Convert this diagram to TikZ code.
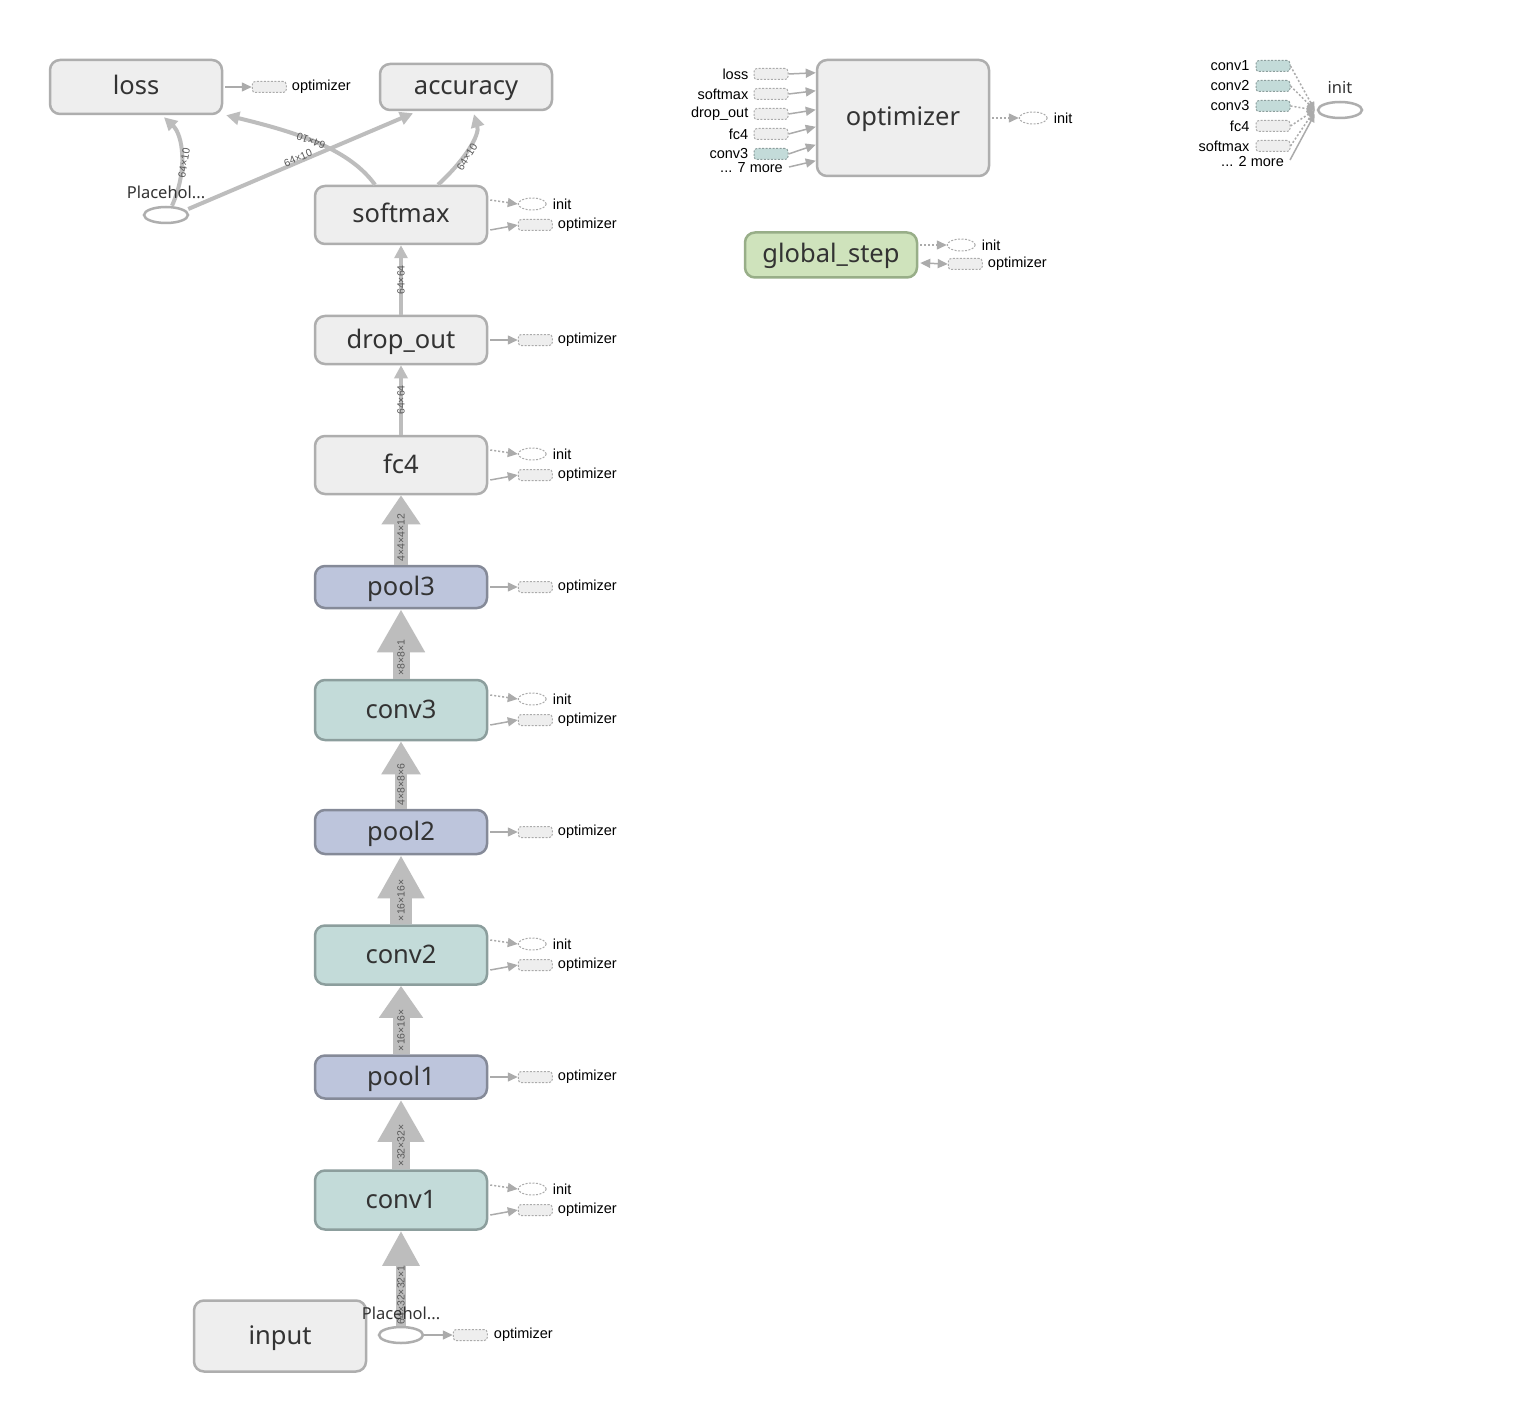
\documentclass[tikz,border=0pt]{standalone}
\usepackage{fontspec}
\setmainfont{Liberation Sans}
\newfontfamily\opfont{Noto Sans}
\usetikzlibrary{arrows.meta,shapes.geometric,calc}

\definecolor{opfill}{HTML}{EEEEEE}
\definecolor{opline}{HTML}{AEAEAE}
\definecolor{poolfill}{HTML}{BDC5DC}
\definecolor{poolline}{HTML}{858A98}
\definecolor{convfill}{HTML}{C3DBD9}
\definecolor{convline}{HTML}{8C9E9D}
\definecolor{varfill}{HTML}{CFE3BC}
\definecolor{varline}{HTML}{98AE88}
\definecolor{edgecol}{HTML}{BDBDBD}
\definecolor{stubline}{HTML}{ABABAB}
\definecolor{optext}{HTML}{333333}

\tikzset{
  op/.style={draw=opline, fill=opfill, line width=2.5pt, rounded corners=10pt,
    minimum width=172pt, inner sep=0pt, text=optext, text height=18pt, text depth=2pt,
    font=\opfont\fontsize{25.5}{28}\selectfont},
  poolop/.style={op, draw=poolline, fill=poolfill},
  convop/.style={op, draw=convline, fill=convfill},
  varop/.style={op, draw=varline, fill=varfill},
  ph/.style={ellipse, draw=opline, line width=2.5pt, fill=white,
    minimum width=44pt, minimum height=16pt, inner sep=0pt},
  phlbl/.style={font=\opfont\fontsize{16.5}{18}\selectfont, text=optext, inner sep=0pt},
  stubrect/.style={draw=stubline, dash pattern=on 2pt off 1.5pt, fill=opfill,
    minimum width=34pt, minimum height=11pt, rounded corners=3pt, line width=1pt, inner sep=0pt},
  stubconv/.style={stubrect, fill=convfill, draw=convline},
  stubell/.style={ellipse, draw=stubline, dash pattern=on 2pt off 1.5pt, fill=white,
    minimum width=28pt, minimum height=12pt, inner sep=0pt, line width=1pt},
  lbl/.style={font=\fontsize{14.5}{16}\selectfont, text=black, inner sep=0pt, anchor=west},
  rlbl/.style={lbl, anchor=east},
  ctrl/.style={draw=stubline, line width=1.5pt, dash pattern=on 2pt off 2pt,
    -{Triangle[width=9pt,length=10pt]}},
  data/.style={draw=stubline, line width=1.5pt, -{Triangle[width=9pt,length=10pt]}},
  thinflow/.style={draw=edgecol, line width=4pt, -{Triangle[width=13pt,length=13pt]}},
  fatflow/.style args={#1/#2/#3}{draw=edgecol, line width=#1pt,
    -{Triangle[width=#2pt,length=#3pt]}},
  shp/.style={font=\fontsize{10.5}{11}\selectfont, text=black!65, inner sep=0pt},
}

\begin{document}
\begin{tikzpicture}[x=1pt,y=-1pt]
\useasboundingbox[fill=white] (0,0) rectangle (1538,1404);

% ---------- main operation nodes ----------
\node[op, minimum height=54pt] (loss) at (136,87) {loss};
\node[op, minimum height=46pt] (accuracy) at (466,87) {accuracy};
\node[op, minimum height=58pt] (softmax) at (401,215) {softmax};
\node[op, minimum height=48pt] (dropout) at (401,340) {drop\_out};
\node[op, minimum height=58pt] (fc4) at (401,465) {fc4};
\node[poolop, minimum height=42pt] (pool3) at (401,587) {pool3};
\node[convop, minimum height=60pt] (conv3) at (401,710) {conv3};
\node[poolop, minimum height=44pt] (pool2) at (401,832) {pool2};
\node[convop, minimum height=59pt] (conv2) at (401,955) {conv2};
\node[poolop, minimum height=43pt] (pool1) at (401,1077) {pool1};
\node[convop, minimum height=59pt] (conv1) at (401,1200) {conv1};
\node[op, minimum height=71pt] (input) at (280,1336) {input};
\node[op, minimum height=116pt] (optimizer) at (903,118) {optimizer};
\node[varop, minimum height=45pt] (gstep) at (831,255) {global\_step};

% placeholders
\node[ph] (phin) at (401,1335) {};
\node[ph] (phlab) at (166,215) {};
\node[ph] (initop) at (1340,110) {};

% ---------- data flow along the network ----------
\draw[fatflow=10/35/35] (phin.north) -- (conv1.south);
\draw[fatflow=18/44/42] (conv1.north) -- (pool1.south);
\draw[fatflow=17/42/32] (pool1.north) -- (conv2.south);
\draw[fatflow=22/44/43] (conv2.north) -- (pool2.south);
\draw[fatflow=12/37/33] (pool2.north) -- (conv3.south);
\draw[fatflow=17/45/43] (conv3.north) -- (pool3.south);
\draw[fatflow=14/37/29] (pool3.north) -- (fc4.south);
\draw[thinflow] (fc4.north) -- (dropout.south);
\draw[thinflow] (dropout.north) -- (softmax.south);

% tensor shapes on the flow arrows
\node[shp, rotate=90, anchor=west] at ($(phin.north)+(0,-1)$) {64×32×32×1};
\node[shp, rotate=90, anchor=west] at ($(conv1.north)+(0,-3)$) {×32×32×};
\node[shp, rotate=90, anchor=west] at ($(pool1.north)+(0,-3)$) {×16×16×};
\node[shp, rotate=90, anchor=west] at ($(conv2.north)+(0,-3)$) {×16×16×};
\node[shp, rotate=90, anchor=west] at ($(pool2.north)+(0,-3)$) {4×8×8×6};
\node[shp, rotate=90, anchor=west] at ($(conv3.north)+(0,-3)$) {×8×8×1};
\node[shp, rotate=90, anchor=west] at ($(pool3.north)+(0,-3)$) {4×4×4×12};
\node[shp, rotate=90] at ($(fc4.north)!0.5!(dropout.south)$) {64×64};
\node[shp, rotate=90] at ($(dropout.north)!0.5!(softmax.south)$) {64×64};

% ---------- loss / accuracy inputs ----------
\draw[thinflow] ($(phlab.north)+(6,0)$) .. controls (188,170) and (183,135) .. ($(loss.south)+(28,2)$);
\draw[thinflow] ($(phlab.east)+(-1,-6)$) -- ($(accuracy.south)+(-53,2)$);
\draw[thinflow] ($(softmax.north)+(-26,0)$) .. controls (350,150) and (300,133) .. ($(loss.south east)+(3,0)$);
\draw[thinflow] ($(softmax.north)+(37,0)$) .. controls (465,160) and (480,135) .. ($(accuracy.south)+(8,3)$);

\node[shp, rotate=80] at (184,163) {64×10};
\node[shp, rotate=23] at (298,158) {64×10};
\node[shp, rotate=160] at (311,141) {64×10};
\node[shp, rotate=58] at (467,157) {64×10};

\node[phlbl] at (166,192) {Placehol...};
\node[phlbl] at (401,1313) {Placehol...};
\node[phlbl] at (1340,88) {init};

% ---------- side stubs: init and optimizer ----------
\foreach \n in {softmax,fc4,conv3,conv2,conv1} {
  \node[stubell] (\n-init) at ($(\n.east)+(44,-11)$) {};
  \node[stubrect] (\n-opt) at ($(\n.east)+(47,10)$) {};
  \draw[ctrl] ($(\n.east)+(2,-15)$) -- (\n-init.west);
  \draw[data] ($(\n.east)+(2,15)$) -- (\n-opt.west);
  \node[lbl] at ($(\n-init.east)+(6,0)$) {init};
  \node[lbl] at ($(\n-opt.east)+(5,0)$) {optimizer};
}
\foreach \n in {dropout,pool3,pool2,pool1} {
  \node[stubrect] (\n-opt) at ($(\n.east)+(47,0)$) {};
  \draw[data] ($(\n.east)+(2,0)$) -- (\n-opt.west);
  \node[lbl] at ($(\n-opt.east)+(5,0)$) {optimizer};
}
\node[stubrect] (loss-opt) at ($(loss.east)+(46,0)$) {};
\draw[data] ($(loss.east)+(2,0)$) -- (loss-opt.west);
\node[lbl] at ($(loss-opt.east)+(5,0)$) {optimizer};

\node[stubrect] (phin-opt) at ($(phin.east)+(46,0)$) {};
\draw[data] (phin.east) -- (phin-opt.west);
\node[lbl] at ($(phin-opt.east)+(6,0)$) {optimizer};

% ---------- optimizer inputs ----------
\foreach \nm/\lab/\y/\t/\st in {oloss/loss/74/14/stubrect,
    osoft/softmax/94/32/stubrect,
    odrop/drop\_out/114/51/stubrect,
    ofc/fc4/134/68/stubrect,
    oconv/conv3/154/86/stubconv} {
  \node[\st] (\nm) at (771,\y) {};
  \node[rlbl] at ($(\nm.west)+(-5,0)$) {\lab};
  \draw[data] (\nm.east) -- ($(optimizer.north west)+(0,\t)$);
}
\node[rlbl] (omore) at (783,168) {... 7 more};
\draw[data] ($(omore.east)+(6,-1)$) -- ($(optimizer.north west)+(0,102)$);

\node[stubell] (opt-init) at ($(optimizer.east)+(43,0)$) {};
\draw[ctrl] ($(optimizer.east)+(2,0)$) -- (opt-init.west);
\node[lbl] at ($(opt-init.east)+(6,0)$) {init};

% ---------- global_step ----------
\node[stubell] (gs-init) at ($(gstep.east)+(43,-10)$) {};
\node[stubrect] (gs-opt) at ($(gstep.east)+(47,9)$) {};
\draw[ctrl] ($(gstep.east)+(2,-10)$) -- (gs-init.west);
\draw[data, {Triangle[width=9pt,length=10pt]}-{Triangle[width=9pt,length=10pt]}] ($(gstep.east)+(2,8)$) -- (gs-opt.west);
\node[lbl] at ($(gs-init.east)+(6,0)$) {init};
\node[lbl] at ($(gs-opt.east)+(5,0)$) {optimizer};

% ---------- init inputs ----------
\foreach \nm/\lab/\y/\st in {iconv1/conv1/66/stubconv,
    iconv2/conv2/86/stubconv,
    iconv3/conv3/106/stubconv,
    ifc/fc4/126/stubrect,
    isoft/softmax/146/stubrect} {
  \node[\st] (\nm) at (1273,\y) {};
  \node[rlbl] at ($(\nm.west)+(-6,0)$) {\lab};
  \draw[ctrl, -{Triangle[width=7pt,length=8pt]}] (\nm.east) -- ($(initop.west)+(-2,0)$);
}
\node[rlbl] (imore) at (1284,162) {... 2 more};
\draw[data, -{Triangle[width=7pt,length=8pt]}] ($(imore.east)+(6,-2)$) -- ($(initop.west)+(-2,4)$);

\end{tikzpicture}
\end{document}
